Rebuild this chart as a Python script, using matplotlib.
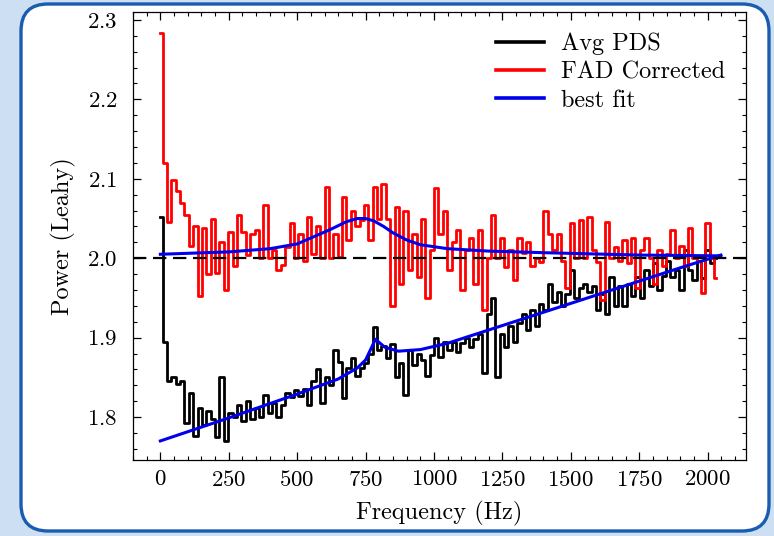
import numpy as np
import matplotlib
matplotlib.use("Agg")
import matplotlib.pyplot as plt
from matplotlib.patches import FancyBboxPatch
from matplotlib.ticker import MultipleLocator

# ---------------- data ----------------
bin_width = 16
freq = np.arange(128) * bin_width

avg_pds = [
    2.052, 1.894, 1.845, 1.850, 1.842, 1.845, 1.792, 1.830, 1.776, 1.812,
    1.790, 1.808, 1.798, 1.775, 1.850, 1.770, 1.805, 1.800, 1.815, 1.795,
    1.820, 1.798, 1.812, 1.800, 1.828, 1.805, 1.818, 1.800, 1.815, 1.830,
    1.825, 1.834, 1.826, 1.835, 1.815, 1.845, 1.860, 1.818, 1.850, 1.840,
    1.884, 1.870, 1.824, 1.862, 1.875, 1.852, 1.862, 1.868, 1.880, 1.913,
    1.885, 1.890, 1.875, 1.892, 1.850, 1.868, 1.828, 1.884, 1.865, 1.880,
    1.872, 1.852, 1.878, 1.900, 1.876, 1.895, 1.885, 1.895, 1.882, 1.893,
    1.900, 1.888, 1.898, 1.905, 1.855, 1.930, 1.950, 1.850, 1.905, 1.888,
    1.915, 1.895, 1.918, 1.930, 1.910, 1.935, 1.915, 1.943, 1.935, 1.968,
    1.945, 1.958, 1.940, 1.955, 1.985, 1.950, 1.962, 1.968, 1.958, 1.965,
    1.935, 1.955, 1.930, 1.976, 1.940, 1.965, 1.940, 1.968, 1.952, 1.976,
    1.950, 1.985, 1.965, 1.994, 1.960, 1.978, 1.997, 1.976, 1.985, 1.960,
    2.010, 1.985, 1.972, 1.997, 1.975, 2.010, 1.994, 2.000,
]

fad_corrected = [
    2.283, 2.120, 2.045, 2.098, 2.085, 2.070, 2.054, 2.016, 2.040, 1.953,
    2.038, 1.980, 2.050, 1.982, 2.020, 1.960, 2.033, 1.990, 2.054, 2.033,
    2.004, 2.030, 2.035, 2.000, 2.067, 2.000, 2.010, 1.985, 1.992, 2.014,
    2.044, 2.000, 2.030, 1.997, 2.052, 2.005, 2.040, 2.000, 2.090, 2.000,
    2.030, 2.002, 2.077, 2.023, 2.060, 2.040, 2.048, 2.067, 2.023, 2.090,
    2.050, 2.094, 2.050, 1.940, 2.064, 1.968, 2.060, 1.985, 2.031, 1.976,
    2.050, 1.950, 2.010, 2.088, 2.030, 2.060, 1.985, 2.020, 2.035, 1.960,
    2.010, 2.026, 1.968, 2.035, 1.935, 2.000, 2.054, 2.000, 2.026, 1.989,
    2.010, 1.972, 2.026, 2.006, 2.020, 1.990, 2.000, 1.995, 2.060, 2.030,
    2.010, 2.030, 1.997, 1.963, 2.044, 2.000, 2.048, 2.000, 2.052, 2.010,
    1.995, 1.947, 2.045, 2.000, 2.014, 1.997, 2.023, 1.994, 2.026, 1.963,
    2.010, 2.026, 2.000, 1.968, 2.010, 1.990, 2.005, 2.035, 2.000, 2.015,
    1.990, 2.038, 2.000, 1.997, 1.956, 2.044, 2.000, 1.975,
]

fit_fad_f = [0, 250, 400, 500, 560, 620, 680, 720, 750, 780, 816, 850, 900,
             950, 1050, 1200, 1400, 1750, 2048]
fit_fad_y = [2.005, 2.008, 2.012, 2.018, 2.027, 2.036, 2.046, 2.050, 2.050,
             2.047, 2.040, 2.032, 2.023, 2.017, 2.012, 2.009, 2.007, 2.004, 2.003]

fit_avg_f = [0, 250, 500, 650, 720, 750, 786, 820, 870, 950, 1050, 1400,
             1650, 1900, 2048]
fit_avg_y = [1.770, 1.799, 1.829, 1.848, 1.862, 1.872, 1.898, 1.888, 1.883,
             1.885, 1.893, 1.932, 1.960, 1.988, 2.004]

x_ticks = [0, 250, 500, 750, 1000, 1250, 1500, 1750, 2000]
y_ticks = [1.8, 1.9, 2.0, 2.1, 2.2, 2.3]

# ---------------- style ----------------
plt.rcParams["font.family"] = ["cmr10", "DejaVu Serif"]
plt.rcParams["mathtext.fontset"] = "cm"
plt.rcParams["axes.formatter.use_mathtext"] = True
plt.rcParams["axes.unicode_minus"] = False

W, H = 774, 536
fig = plt.figure(figsize=(W / 100, H / 100), dpi=100)
fig.patch.set_facecolor("#cddff2")

# rounded white card with blue border
card = FancyBboxPatch((21 / W, 5 / H), (769 - 21) / W, (532 - 5) / H,
                      boxstyle="round,pad=0,rounding_size=0.035",
                      transform=fig.transFigure, facecolor="white",
                      edgecolor="#1a5cb0", linewidth=2.4, zorder=-10,
                      mutation_aspect=W / H)
fig.patches.append(card)

ax = fig.add_axes([133 / W, 1 - 460 / H, (746 - 133) / W, (460 - 12) / H])
ax.set_zorder(5)
ax.set_facecolor("white")

ax.plot(freq, avg_pds, drawstyle="steps-mid", color="black", lw=2.0,
        label="Avg PDS")
ax.plot(freq, fad_corrected, drawstyle="steps-mid", color="#ff0000", lw=2.0,
        label="FAD Corrected")
ax.plot(fit_fad_f, fit_fad_y, color="#0000ee", lw=2.2, label="best fit")
ax.plot(fit_avg_f, fit_avg_y, color="#0000ee", lw=2.2)
ax.axhline(2.0, color="black", ls=(0, (6, 3)), lw=1.6)

ax.set_xlim(-100, 2140)
ax.set_ylim(1.746, 2.31)
ax.set_xticks(x_ticks)
ax.set_yticks(y_ticks)
ax.xaxis.set_minor_locator(MultipleLocator(50))
ax.yaxis.set_minor_locator(MultipleLocator(0.02))
ax.tick_params(which="both", direction="in", top=True, right=True,
               labelsize=16.5, colors="black")
ax.tick_params(axis="x", which="major", pad=7)
ax.tick_params(axis="y", which="major", pad=11)
ax.tick_params(which="major", length=6, width=0.9)
ax.tick_params(which="minor", length=3, width=0.8)
for s in ax.spines.values():
    s.set_linewidth(0.9)

ax.set_xlabel("Frequency (Hz)", fontsize=17.5, labelpad=8)
ax.set_ylabel("Power (Leahy)", fontsize=17.5, labelpad=8)

leg = ax.legend(loc="upper right", frameon=False, fontsize=17.5,
                handlelength=2.0, handletextpad=0.7, borderaxespad=0.45,
                labelspacing=0.25)
for h in leg.legend_handles:
    h.set_linewidth(2.6)

fig.savefig("out.png", dpi=100, facecolor=fig.get_facecolor())
